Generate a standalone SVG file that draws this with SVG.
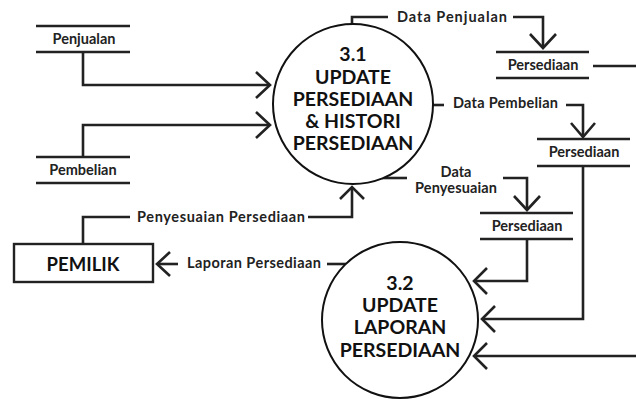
<svg xmlns="http://www.w3.org/2000/svg" width="636" height="399" viewBox="0 0 636 399">
  <defs>
    <style>
      .ln { fill: none; stroke: #222; stroke-width: 2.6; stroke-linejoin: miter; }
      .st { fill: none; stroke: #222; stroke-width: 2.4; }
      .proc { fill: #fff; stroke: #111; stroke-width: 2; }
      .ent { fill: #fff; stroke: #222; stroke-width: 2.4; }
      .lbl { font-family: Lato, "Liberation Sans", sans-serif; font-weight: bold; font-size: 14.5px; fill: #222; text-anchor: middle; }
      .slbl { font-family: Lato, "Liberation Sans", sans-serif; font-weight: bold; font-size: 14.5px; fill: #222; text-anchor: middle; }
      .ptxt { font-family: Lato, "Liberation Sans", sans-serif; font-weight: bold; font-size: 19.5px; fill: #111; text-anchor: middle; }
    </style>
  </defs>
  <rect width="636" height="399" fill="#fff"/>

  <!-- connectors -->
  <g id="connectors">
    <!-- Penjualan -> 3.1 -->
    <polyline class="ln" points="83,52 83,85 270,85"/>
    <polyline class="ln" points="256,72 270,85 256,98"/>
    <!-- Pembelian -> 3.1 -->
    <polyline class="ln" points="83,157 83,125 270,125"/>
    <polyline class="ln" points="256,112 270,125 256,138"/>

    <!-- 3.1 -> Persediaan (Data Penjualan) -->
    <polyline class="ln" points="352,25 352,17 388,17"/>
    <polyline class="ln" points="513,17 543,17 543,48"/>
    <polyline class="ln" points="530,34 543,48 556,34"/>

    <!-- 3.1 -> Persediaan (Data Pembelian) -->
    <line class="ln" x1="432" y1="105" x2="444" y2="105"/>
    <polyline class="ln" points="566,105 583,105 583,137"/>
    <polyline class="ln" points="571,123 583,137 595,123"/>

    <!-- 3.1 -> Persediaan (Data Penyesuaian) -->
    <line class="ln" x1="382" y1="178" x2="407" y2="178"/>
    <polyline class="ln" points="503,178 527,178 527,210"/>
    <polyline class="ln" points="514,196 527,210 540,196"/>

    <!-- PEMILIK -> 3.1 (Penyesuaian Persediaan) -->
    <polyline class="ln" points="83,244 83,217 130,217"/>
    <polyline class="ln" points="308,217 352,217 352,187"/>
    <polyline class="ln" points="340,199 352,187 364,199"/>

    <!-- 3.2 -> PEMILIK (Laporan Persediaan) -->
    <line class="ln" x1="157" y1="264" x2="178" y2="264"/>
    <polyline class="ln" points="170,252 157,264 170,276"/>
    <line class="ln" x1="327" y1="264" x2="346" y2="264"/>

    <!-- Persediaan stores -> 3.2 -->
    <polyline class="ln" points="527,239 527,281 474,281"/>
    <polyline class="ln" points="487,268 474,281 487,294"/>
    <polyline class="ln" points="583,166 583,319 482,319"/>
    <polyline class="ln" points="495,306 482,319 495,332"/>
    <line class="ln" x1="636" y1="356" x2="474" y2="356"/>
    <polyline class="ln" points="487,343 474,356 487,369"/>
    <line class="ln" x1="593" y1="66" x2="636" y2="66"/>

    <!-- flow labels -->
    <text class="lbl" x="452" y="22" textLength="110" lengthAdjust="spacing">Data Penjualan</text>
    <text class="lbl" x="505.5" y="108" textLength="105" lengthAdjust="spacing">Data Pembelian</text>
    <text class="lbl" x="456" y="177">Data</text>
    <text class="lbl" x="456" y="193" textLength="82" lengthAdjust="spacing">Penyesuaian</text>
    <text class="lbl" x="221" y="222" textLength="168" lengthAdjust="spacing">Penyesuaian Persediaan</text>
    <text class="lbl" x="254" y="268" textLength="134" lengthAdjust="spacing">Laporan Persediaan</text>
  </g>

  <!-- data stores -->
  <g id="store-penjualan">
    <line class="st" x1="36" y1="26" x2="130" y2="26"/>
    <line class="st" x1="36" y1="52" x2="130" y2="52"/>
    <text class="slbl" x="84" y="44">Penjualan</text>
  </g>
  <g id="store-pembelian">
    <line class="st" x1="36" y1="157" x2="130" y2="157"/>
    <line class="st" x1="36" y1="183" x2="130" y2="183"/>
    <text class="slbl" x="83" y="175">Pembelian</text>
  </g>
  <g id="store-persediaan-1">
    <line class="st" x1="496" y1="52" x2="589" y2="52"/>
    <line class="st" x1="496" y1="78" x2="589" y2="78"/>
    <text class="slbl" x="543" y="70">Persediaan</text>
  </g>
  <g id="store-persediaan-2">
    <line class="st" x1="537" y1="139" x2="630" y2="139"/>
    <line class="st" x1="537" y1="166" x2="630" y2="166"/>
    <text class="slbl" x="584" y="157">Persediaan</text>
  </g>
  <g id="store-persediaan-3">
    <line class="st" x1="480" y1="213" x2="573" y2="213"/>
    <line class="st" x1="480" y1="239" x2="573" y2="239"/>
    <text class="slbl" x="527" y="231">Persediaan</text>
  </g>

  <!-- external entity -->
  <g id="entity-pemilik">
    <rect class="ent" x="14" y="244" width="139" height="38"/>
    <text class="ptxt" x="83" y="271" style="font-size:18.5px">PEMILIK</text>
  </g>

  <!-- processes -->
  <g id="process-3-1">
    <circle class="proc" cx="353" cy="104" r="80"/>
    <text class="ptxt" x="353" y="61">3.1</text>
    <text class="ptxt" x="353" y="84">UPDATE</text>
    <text class="ptxt" x="353" y="106">PERSEDIAAN</text>
    <text class="ptxt" x="353" y="128">&amp; HISTORI</text>
    <text class="ptxt" x="353" y="150">PERSEDIAAN</text>
  </g>
  <g id="process-3-2">
    <circle class="proc" cx="400" cy="320" r="78"/>
    <text class="ptxt" x="400" y="290">3.2</text>
    <text class="ptxt" x="400" y="312">UPDATE</text>
    <text class="ptxt" x="400" y="334">LAPORAN</text>
    <text class="ptxt" x="400" y="357">PERSEDIAAN</text>
  </g>
</svg>
